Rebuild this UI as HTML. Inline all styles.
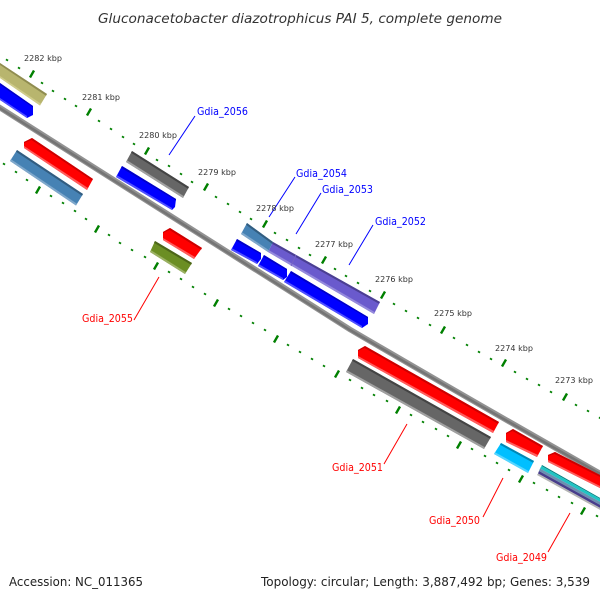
<!DOCTYPE html>
<html><head><meta charset="utf-8"><style>
html,body{margin:0;padding:0;background:#fff}
svg{display:block}
text{font-family:"DejaVu Sans",sans-serif}
.k{font-size:8px;fill:#333}
.b{font-size:11px;fill:#00f}
.r{font-size:11px;fill:#f00}
.f{font-size:12px;fill:#222}
</style></head><body>
<svg width="600" height="600" viewBox="0 0 600 600" xmlns="http://www.w3.org/2000/svg">
<text x="98" y="23" textLength="404" lengthAdjust="spacingAndGlyphs" style="font-size:13px;font-style:italic;fill:#333">Gluconacetobacter diazotrophicus PAI 5, complete genome</text>
<text class="f" x="9" y="586" textLength="134" lengthAdjust="spacingAndGlyphs">Accession: NC_011365</text>
<text class="f" x="261" y="586" textLength="329" lengthAdjust="spacingAndGlyphs">Topology: circular; Length: 3,887,492 bp; Genes: 3,539</text>

<path d="M-2 106.500 Q150 203.500 350 329.500 Q480 405.500 602 474.500" fill="none" stroke="#929292" stroke-width="5.500"/>
<path d="M-2 107 Q150 204 350 330 Q480 406 602 475" fill="none" stroke="#757575" stroke-width="2.500"/>

<!-- upper ticks -->
<g stroke="#008000" stroke-width="2.400" fill="none">
<path d="M6.500 60.800l1 -1.600M18.500 68.800l1 -1.600M41.500 83.800l1 -1.600M52.500 91.800l1 -1.600M64.500 99.800l1 -1.600M75.500 106.800l1 -1.600M98.500 121.800l1 -1.600M110.500 129.800l1 -1.600M122.500 137.800l1 -1.600M133.500 144.800l1 -1.600M156.500 160.800l1 -1.600M168.500 166.800l1 -1.600M180.500 174.800l1 -1.600M191.500 182.800l1 -1.600M215.500 197.800l1 -1.600M227.500 204.800l1 -1.600M239.500 212.800l1 -1.600M250.500 219.800l1 -1.600M274.500 233.800l1 -1.600M286.500 240.800l1 -1.600M298.500 248.800l1 -1.600M309.500 255.800l1 -1.600M334.500 269.800l1 -1.600M345.500 276.800l1 -1.600M357.500 283.800l1 -1.600M369.500 291.800l1 -1.600M393.500 304.800l1 -1.600M405.500 311.800l1 -1.600M417.500 318.800l1 -1.600M429.500 325.800l1 -1.600M453.500 338.800l1 -1.600M466.500 345.800l1 -1.600M478.500 352.800l1 -1.600M490.500 359.800l1 -1.600M514.500 372.800l1 -1.600M526.500 379.800l1 -1.600M538.500 385.800l1 -1.600M550.500 392.800l1 -1.600M575.500 405.800l1 -1.600M587.500 411.800l1 -1.600M599.500 418.800l1 -1.600"/>
<path d="M30 77.500l4 -7M87 115.500l4 -7M145 154.500l4 -7M204 190.500l4 -7M263 227.500l4 -7M322 263.500l4 -7M381 298.500l4 -7M441 333.500l4 -7M502 366.500l4 -7M563 400.500l4 -7"/>
<!-- lower ticks -->
<path d="M3.500 164.800l1 -1.600M15.500 172.800l1 -1.600M26.500 180.800l1 -1.600M50.500 196.800l1 -1.600M62.500 203.800l1 -1.600M74.500 211.800l1 -1.600M85.500 219.800l1 -1.600M108.500 235.800l1 -1.600M119.500 243.800l1 -1.600M131.500 250.800l1 -1.600M144.500 257.800l1 -1.600M168.500 272.800l1 -1.600M180.500 279.800l1 -1.600M192.500 287.800l1 -1.600M204.500 294.800l1 -1.600M228.500 309.800l1 -1.600M240.500 316.800l1 -1.600M252.500 323.800l1 -1.600M264.500 330.800l1 -1.600M287.500 345.800l1 -1.600M299.500 352.800l1 -1.600M311.500 359.800l1 -1.600M323.500 366.800l1 -1.600M349.500 380.800l1 -1.600M361.500 388.800l1 -1.600M373.500 395.800l1 -1.600M386.500 401.800l1 -1.600M410.500 415.800l1 -1.600M422.500 422.800l1 -1.600M435.500 429.800l1 -1.600M447.500 436.800l1 -1.600M471.500 449.800l1 -1.600M484.500 456.800l1 -1.600M496.500 463.800l1 -1.600M508.500 470.800l1 -1.600M533.500 483.800l1 -1.600M546.500 490.800l1 -1.600M558.500 497.800l1 -1.600M571.500 503.800l1 -1.600M596.500 516.800l1 -1.600"/>
<path d="M36 193.500l4 -7M95 232.500l4 -7M154 269.500l4 -7M214 306.500l4 -7M274 342.500l4 -7M335 377.500l4 -7M396 413.500l4 -7M457 448.500l4 -7M519 482.500l4 -7M581 514.500l4 -7"/>
</g>

<!-- olive 2282 -->
<polygon points="0,63 47,94 40,105.500 0,78" fill="#b8b56e"/>
<polygon points="0,63 47,94 46,95.800 0,65" fill="#8f8c50"/>
<polygon points="0,76 41,103.700 40,105.500 0,78" fill="#cfcb8a"/>
<!-- blue top-left -->
<polygon points="0,83 33,106 33,115 27,118 0,100" fill="#00f"/>
<polygon points="0,83 33,106 33,107.500 0,85" fill="#0000c8"/>
<polygon points="0,98 27,116 27,118 0,100" fill="#5050ff"/>
<!-- red 1 -->
<polygon points="24,142 32,138 93,179 87,190 24,148" fill="#f00"/>
<polygon points="32,138 93,179 92,180.500 31.500,140 24,143 24,142" fill="#cc0000"/>
<polygon points="24,148 87,190 88,188 24,146" fill="#ff5c5c"/>
<!-- steelblue 1 -->
<polygon points="17,150 83,194 76,205.500 10,161" fill="#4682b4"/>
<polygon points="17,150 83,194 82,195.800 16,151.800" fill="#325d80"/>
<polygon points="11,159.200 77,203.700 76,205.500 10,161" fill="#7ea7cb"/>
<!-- gray 2056 -->
<polygon points="132,151 189,187 183,198 126,162" fill="#666"/>
<polygon points="132,151 189,187 188,188.800 131,152.800" fill="#444"/>
<polygon points="127,160.200 184,196.200 183,198 126,162" fill="#a0a0a0"/>
<!-- blue 2056 -->
<polygon points="122,166 176,199 175,207 172,210 116,177" fill="#00f"/>
<polygon points="122,166 176,199 176,200.500 121,167.800" fill="#0000c8"/>
<polygon points="117,175.200 172,208 172,210 116,177" fill="#5050ff"/>
<!-- red 2055 -->
<polygon points="163,232 170,228 202,248 194,259 163,240" fill="#f00"/>
<polygon points="170,228 202,248 201,249.800 169.500,230 163,233 163,232" fill="#cc0000"/>
<polygon points="163,240 194,259 195,257 163,238" fill="#ff5c5c"/>
<!-- olive green -->
<polygon points="155,241 192,263 185,274 150,252" fill="#6b8e23"/>
<polygon points="155,241 192,263 191,264.800 154,242.800" fill="#4c6519"/>
<polygon points="151,250.200 186,272.200 185,274 150,252" fill="#9ab062"/>
<!-- 2054/2053 track -->
<polygon points="273,242 380,302 374,314 268,252" fill="#6a5acd"/>
<polygon points="273,242 380,302 379,303.800 272,243.800" fill="#4b3f92"/>
<polygon points="269,250.200 375,312.200 374,314 268,252" fill="#9489dc"/>
<line x1="296" y1="255" x2="291" y2="266" stroke="#7563c4" stroke-width="1"/>
<polygon points="247,223 273,242 268,252 241,234" fill="#4682b4"/>
<polygon points="247,223 273,242 272,243.800 246,224.800" fill="#325d80"/>
<polygon points="242,232.200 269,250.200 268,252 241,234" fill="#7ea7cb"/>
<!-- blue 2054 -->
<polygon points="237,239 261,253 261,259 257,264 231,250" fill="#00f"/>
<polygon points="237,239 261,253 261,254.500 236,240.800" fill="#0000c8"/>
<polygon points="232,248.200 257,262 257,264 231,250" fill="#5050ff"/>
<!-- blue 2053 -->
<polygon points="264,255 287,269 287,277 283,280 258,266" fill="#00f"/>
<polygon points="264,255 287,269 287,270.500 263,256.800" fill="#0000c8"/>
<polygon points="259,264.200 283,278 283,280 258,266" fill="#5050ff"/>
<!-- blue 2052 -->
<polygon points="291,271 368,317 368,324 362,328 284,282" fill="#00f"/>
<polygon points="291,271 368,317 368,318.500 290,272.800" fill="#0000c8"/>
<polygon points="285,280.200 362,326 362,328 284,282" fill="#5050ff"/>
<!-- red 2051 -->
<polygon points="358,350 365,346 499,422 493,433 358,358" fill="#f00"/>
<polygon points="365,346 499,422 498,423.800 364.500,348 358,351 358,350" fill="#cc0000"/>
<polygon points="358,358 493,433 494,431 358,356" fill="#ff5c5c"/>
<!-- gray 2051 -->
<polygon points="353,359 491,437 484,449 346,372" fill="#666"/>
<polygon points="353,359 491,437 490,438.800 352,360.800" fill="#444"/>
<polygon points="347,370.200 485,447.200 484,449 346,372" fill="#a0a0a0"/>
<!-- red 2050 -->
<polygon points="506,433 513,429 543,446 537,457 506,442" fill="#f00"/>
<polygon points="513,429 543,446 542,447.800 512.500,431 506,434 506,433" fill="#cc0000"/>
<polygon points="506,442 537,457 538,455 506,440" fill="#ff5c5c"/>
<!-- cyan -->
<polygon points="501,443 534,461 528,473 494,454" fill="#00bfff"/>
<polygon points="501,443 534,461 533,462.800 500,444.800" fill="#0088b5"/>
<polygon points="495,452.200 529,471.200 528,473 494,454" fill="#55d5ff"/>
<!-- red 2049 -->
<polygon points="548,455 555,452 602,476 602,489 548,462" fill="#f00"/>
<polygon points="555,452 602,476 602,478 554.500,454 548,456 548,455" fill="#cc0000"/>
<polygon points="548,462 602,489 602,487 548,460" fill="#ff5c5c"/>
<!-- stack -->
<polygon points="542,465 602,499 602,500 541.500,466" fill="#008080"/>
<polygon points="541.500,466 602,500 602,503 540,468.500" fill="#20c4c4"/>
<polygon points="540,468.500 602,503 602,506 539,471" fill="#6a8fb0"/>
<polygon points="539,471 602,506 602,509 538,473.500" fill="#483d8b"/>
<polygon points="538,473.500 602,509 602,511 537,475" fill="#b4b4b4"/>

<!-- leaders -->
<g fill="none" stroke-width="1">
<path stroke="#00f" d="M169 155L195 116M269 217L295 177M296 234L321 193M349 265L373 225"/>
<path stroke="#f00" d="M159 277L134 320M407 424L384 464M503 478L483 517M570 513L548 552"/>
</g>

<!-- kbp labels -->
<text class="k" x="24" y="61" textLength="38" lengthAdjust="spacingAndGlyphs">2282 kbp</text>
<text class="k" x="82" y="100" textLength="38" lengthAdjust="spacingAndGlyphs">2281 kbp</text>
<text class="k" x="139" y="138" textLength="38" lengthAdjust="spacingAndGlyphs">2280 kbp</text>
<text class="k" x="198" y="175" textLength="38" lengthAdjust="spacingAndGlyphs">2279 kbp</text>
<text class="k" x="256" y="211" textLength="38" lengthAdjust="spacingAndGlyphs">2278 kbp</text>
<text class="k" x="315" y="247" textLength="38" lengthAdjust="spacingAndGlyphs">2277 kbp</text>
<text class="k" x="375" y="282" textLength="38" lengthAdjust="spacingAndGlyphs">2276 kbp</text>
<text class="k" x="434" y="316" textLength="38" lengthAdjust="spacingAndGlyphs">2275 kbp</text>
<text class="k" x="495" y="351" textLength="38" lengthAdjust="spacingAndGlyphs">2274 kbp</text>
<text class="k" x="555" y="383" textLength="38" lengthAdjust="spacingAndGlyphs">2273 kbp</text>

<!-- gene labels -->
<text class="b" x="197" y="115" textLength="51" lengthAdjust="spacingAndGlyphs">Gdia_2056</text>
<text class="b" x="296" y="177" textLength="51" lengthAdjust="spacingAndGlyphs">Gdia_2054</text>
<text class="b" x="322" y="193" textLength="51" lengthAdjust="spacingAndGlyphs">Gdia_2053</text>
<text class="b" x="375" y="225" textLength="51" lengthAdjust="spacingAndGlyphs">Gdia_2052</text>
<text class="r" x="82" y="322" textLength="51" lengthAdjust="spacingAndGlyphs">Gdia_2055</text>
<text class="r" x="332" y="471" textLength="51" lengthAdjust="spacingAndGlyphs">Gdia_2051</text>
<text class="r" x="429" y="524" textLength="51" lengthAdjust="spacingAndGlyphs">Gdia_2050</text>
<text class="r" x="496" y="561" textLength="51" lengthAdjust="spacingAndGlyphs">Gdia_2049</text>
</svg>
</body></html>
